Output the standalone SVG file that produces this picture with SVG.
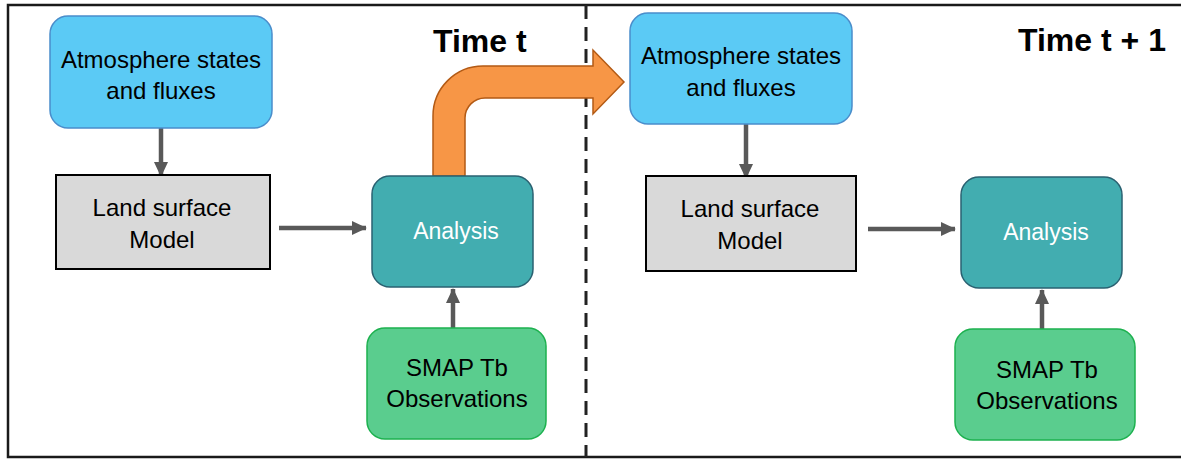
<svg xmlns="http://www.w3.org/2000/svg" width="1181" height="459" viewBox="0 0 1181 459">
<style>
.txt{font-family:"Liberation Sans",Arial,sans-serif;font-size:24px;fill:#000;text-anchor:middle}
.wtxt{font-family:"Liberation Sans",Arial,sans-serif;font-size:23px;fill:#fff;text-anchor:middle}
.title{font-family:"Liberation Sans",Arial,sans-serif;font-size:32px;font-weight:bold;fill:#000;text-anchor:start}
.atm{fill:#5BCAF5;stroke:#4A8DCB;stroke-width:1.5}
.land{fill:#D9D9D9;stroke:#000;stroke-width:2}
.ana{fill:#42ADB0;stroke:#2A6171;stroke-width:1.5}
.smap{fill:#5ACD8E;stroke:#1DB14F;stroke-width:1.5}
.conn{stroke:#595959;stroke-width:4.5;fill:none}
</style>
<defs>
<marker id="ah" markerWidth="4" markerHeight="4" refX="3.2" refY="2" orient="auto" markerUnits="strokeWidth">
<path d="M0,0.4 L3.4,2 L0,3.6 Z" fill="#595959"/>
</marker>
</defs>
<rect x="0" y="0" width="1181" height="459" fill="#fff"/>
<path d="M1181,5 H8 V457 H1181" fill="none" stroke="#1a1a1a" stroke-width="2.5"/>
<line x1="586" y1="5" x2="586" y2="457" stroke="#222" stroke-width="3" stroke-dasharray="14,8"/>

<g id="title-t"><text class="title" x="433" y="52">Time t</text></g>
<g id="title-t1"><text class="title" x="1018" y="51">Time t + 1</text></g>

<g id="transfer">
<path d="M433,176 V116 A50,50 0 0 1 483,66 H593 V50 L624,82 L593,114 V98 H485 A20,20 0 0 0 465,118 V176 Z" fill="#F79646" stroke="#B35A14" stroke-width="1.5" stroke-linejoin="miter"/>
</g>

<g id="connectors">
<line class="conn" x1="161" y1="128" x2="161" y2="176" marker-end="url(#ah)"/>
<line class="conn" x1="279" y1="228" x2="366" y2="228" marker-end="url(#ah)"/>
<line class="conn" x1="453" y1="328" x2="453" y2="289" marker-end="url(#ah)"/>
<line class="conn" x1="746" y1="124" x2="746" y2="178" marker-end="url(#ah)"/>
<line class="conn" x1="868" y1="229" x2="955" y2="229" marker-end="url(#ah)"/>
<line class="conn" x1="1042" y1="329" x2="1042" y2="290" marker-end="url(#ah)"/>
</g>

<g id="atm1">
<rect class="atm" x="50" y="16" width="222" height="112" rx="18"/>
<text class="txt" x="161" y="68">Atmosphere states</text>
<text class="txt" x="161" y="99">and fluxes</text>
</g>
<g id="land1">
<rect class="land" x="56" y="175" width="214" height="94"/>
<text class="txt" x="162" y="216">Land surface</text>
<text class="txt" x="162" y="248">Model</text>
</g>
<g id="ana1">
<rect class="ana" x="372" y="176" width="161" height="111" rx="18"/>
<text class="wtxt" x="456" y="239">Analysis</text>
</g>
<g id="smap1">
<rect class="smap" x="367" y="328" width="179" height="111" rx="18"/>
<text class="txt" x="457" y="376">SMAP Tb</text>
<text class="txt" x="457" y="407">Observations</text>
</g>

<g id="atm2">
<rect class="atm" x="630" y="13" width="222" height="111" rx="18"/>
<text class="txt" x="741" y="64">Atmosphere states</text>
<text class="txt" x="741" y="96">and fluxes</text>
</g>
<g id="land2">
<rect class="land" x="646" y="176" width="210" height="95"/>
<text class="txt" x="750" y="217">Land surface</text>
<text class="txt" x="750" y="249">Model</text>
</g>
<g id="ana2">
<rect class="ana" x="961" y="177" width="161" height="111" rx="18"/>
<text class="wtxt" x="1046" y="240">Analysis</text>
</g>
<g id="smap2">
<rect class="smap" x="955" y="329" width="180" height="111" rx="18"/>
<text class="txt" x="1047" y="378">SMAP Tb</text>
<text class="txt" x="1047" y="409">Observations</text>
</g>
</svg>
